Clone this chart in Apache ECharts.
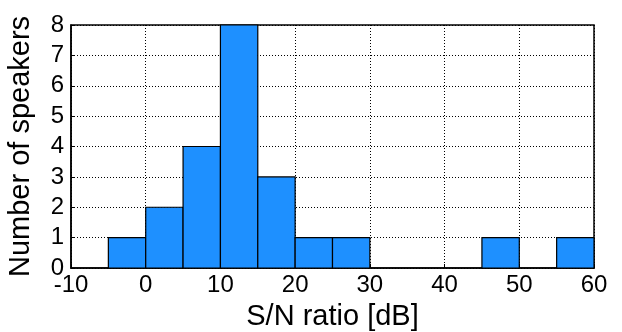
<!DOCTYPE html>
<html>
<head>
<meta charset="utf-8">
<script src="https://cdn.jsdelivr.net/npm/echarts@6/dist/echarts.min.js"></script>
<style>
  html, body { margin: 0; padding: 0; background: #fff; }
  #chart { width: 622px; height: 332px; }
</style>
</head>
<body>
<div id="chart"></div>
<script>
// histogram bins (lower edge, upper edge) and counts
const binStart = [-5, 0, 5, 10, 15, 20, 25, 30, 35, 40, 45, 50, 55];
const binEnd   = [0, 5, 10, 15, 20, 25, 30, 35, 40, 45, 50, 55, 60];
const counts   = [1, 2, 4, 8, 3, 1, 1, 0, 0, 0, 1, 0, 1];

const font = 'Liberation Sans';
const chart = echarts.init(document.getElementById('chart'), null, {renderer: 'canvas'});

const option = {
    animation: false,
    grid: {
        left: 71,
        right: 28,
        top: 25,
        bottom: 64,
        containLabel: false,
        outerBoundsMode: 'none',
        show: true,
        borderColor: '#000',
        borderWidth: 1.5
    },
    xAxis: {
        type: 'value',
        min: -10,
        max: 60,
        interval: 10,
        name: 'S/N ratio [dB]',
        nameLocation: 'middle',
        nameGap: 34,
        nameTextStyle: {fontFamily: font, fontSize: 29, color: '#000'},
        axisLine: {show: true, onZero: false, lineStyle: {color: '#000', width: 1.5}},
        axisTick: {show: true, inside: true, length: 4, lineStyle: {color: '#000'}},
        axisLabel: {fontFamily: font, fontSize: 24, color: '#000', margin: 5},
        splitLine: {show: true, lineStyle: {color: '#000', type: [1, 2], width: 1}}
    },
    yAxis: {
        type: 'value',
        min: 0,
        max: 8,
        interval: 1,
        name: 'Number of speakers',
        nameLocation: 'middle',
        nameGap: 36,
        nameTextStyle: {fontFamily: font, fontSize: 29, color: '#000'},
        axisLine: {show: true, onZero: false, lineStyle: {color: '#000', width: 1.5}},
        axisTick: {show: true, inside: true, length: 4, lineStyle: {color: '#000'}},
        axisLabel: {fontFamily: font, fontSize: 24, color: '#000', margin: 7},
        splitLine: {show: true, lineStyle: {color: '#000', type: [1, 2], width: 1}}
    },
    series: [{
        type: 'custom',
        data: binStart.map((s, i) => [s, binEnd[i], counts[i]]),
        renderItem: function (params, api) {
            const c = api.value(2);
            if (!c) return null;
            const p0 = api.coord([api.value(0), 0]);
            const p1 = api.coord([api.value(1), c]);
            return {
                type: 'rect',
                shape: {x: p0[0], y: p1[1], width: p1[0] - p0[0], height: p0[1] - p1[1]},
                style: {fill: '#1E90FF', stroke: '#000', lineWidth: 1.2}
            };
        }
    }]
};
chart.setOption(option);
</script>
</body>
</html>
